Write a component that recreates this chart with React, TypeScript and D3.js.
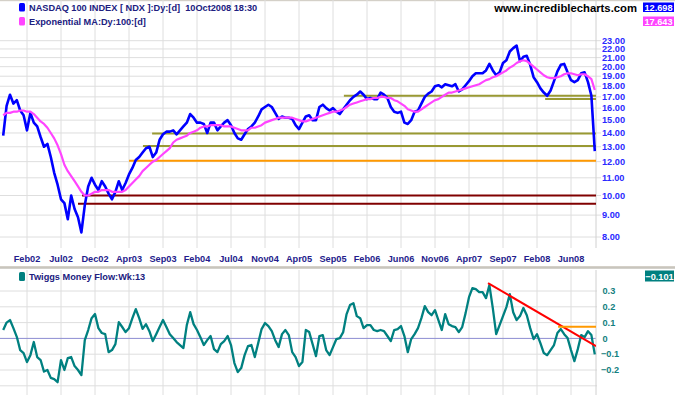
import React from 'react';
import * as d3 from 'd3';

// ---------- DATA ----------
const priceValues = [
  13.8, 16.2, 17.2, 16.4, 16.7, 15.8, 15.4, 14.2, 15.6, 14.8,
  14.5, 13.7, 13.0, 13.2, 12.3, 11.3, 10.6, 9.8, 9.6, 8.8,
  10.0, 9.3, 8.9, 8.2, 9.5, 10.5, 11.0, 10.6, 10.3, 10.8,
  10.5, 10.1, 9.8, 10.2, 10.8, 10.3, 10.7, 11.2, 11.6, 12.1,
  12.3, 12.6, 12.9, 13.0, 12.3, 12.6, 13.5, 13.9, 14.1, 14.1,
  14.2, 13.9, 14.2, 14.5, 14.8, 15.5, 15.2, 14.8, 14.8, 14.7,
  14.0, 14.8, 14.8, 14.2, 14.5, 14.8, 15.0, 14.6, 14.0, 13.6,
  13.5, 13.9, 14.3, 14.5, 14.8, 15.3, 15.9, 16.1, 16.3, 16.1,
  15.6, 15.1, 15.3, 15.2, 15.2, 15.1, 14.6, 14.3, 14.8, 15.3,
  15.4, 15.0, 15.0, 16.1, 16.3, 16.0, 15.8, 16.0, 15.7, 15.5,
  15.9, 16.3, 16.7, 17.0, 17.2, 17.5, 17.2, 16.8, 16.9, 16.8,
  16.8, 17.4, 17.2, 16.9, 16.1, 15.7, 15.6, 15.7, 14.8, 14.7,
  15.0, 15.7, 15.8, 16.4, 17.0, 17.3, 17.5, 18.0, 18.1, 17.9,
  18.2, 18.1, 18.0, 18.2, 17.5, 17.7, 18.1, 18.5, 19.0, 19.3,
  19.3, 19.3, 19.6, 20.3, 19.6, 19.1, 19.4, 20.4, 20.7, 21.7,
  22.1, 22.4, 20.6, 21.1, 21.2, 20.2, 18.9, 18.4, 17.8, 17.4,
  17.1, 17.6, 18.5, 19.5, 20.2, 20.3, 19.4, 18.6, 18.4, 18.6,
  19.3, 19.4, 18.4, 17.1, 12.698,
];

const maValues = [
  15.4, 15.6, 15.6, 15.7, 15.7, 15.8, 15.8, 15.7, 15.7, 15.5,
  15.2, 14.9, 14.7, 14.4, 14.0, 13.6, 13.1, 12.5, 11.8, 11.4,
  11.1, 10.8, 10.5, 10.2, 10.0, 10.0, 10.1, 10.2, 10.2, 10.3,
  10.3, 10.3, 10.2, 10.2, 10.2, 10.2, 10.3, 10.5, 10.7, 10.9,
  11.1, 11.4, 11.6, 11.8, 12.0, 12.1, 12.3, 12.5, 12.7, 12.9,
  13.3, 13.5, 13.6, 13.7, 13.8, 14.0, 14.1, 14.2, 14.4, 14.5,
  14.5, 14.6, 14.6, 14.6, 14.6, 14.5, 14.5, 14.5, 14.4, 14.3,
  14.2, 14.2, 14.2, 14.4, 14.4, 14.5, 14.6, 14.8, 14.9, 15.0,
  15.1, 15.2, 15.2, 15.2, 15.2, 15.2, 15.1, 15.0, 14.9, 14.9,
  15.0, 15.1, 15.2, 15.3, 15.4, 15.5, 15.6, 15.7, 15.7, 15.8,
  15.9, 16.1, 16.3, 16.4, 16.5, 16.6, 16.7, 16.8, 16.8, 16.9,
  16.9, 17.0, 17.0, 16.9, 16.9, 16.7, 16.6, 16.4, 16.2, 15.9,
  15.8, 15.7, 15.7, 15.9, 16.1, 16.3, 16.5, 16.7, 16.8, 17.0,
  17.2, 17.4, 17.4, 17.5, 17.6, 17.7, 17.8, 17.9, 18.0, 18.1,
  18.2, 18.4, 18.6, 18.7, 18.9, 19.0, 19.2, 19.4, 19.6, 19.9,
  20.1, 20.4, 20.6, 20.7, 20.6, 20.3, 20.0, 19.7, 19.4, 19.1,
  18.9, 18.8, 18.8, 18.9, 19.0, 19.2, 19.3, 19.3, 19.2, 19.1,
  19.2, 19.2, 19.0, 18.7, 17.643,
];

const tmfValues = [
  0.053, 0.10, 0.116, 0.065, 0.01, -0.074, -0.093, -0.15, -0.106, -0.023,
  -0.118, -0.137, -0.21, -0.20, -0.25, -0.258, -0.277, -0.137, -0.20, -0.125,
  -0.118, -0.175, -0.20, -0.232, -0.011, 0.053, 0.128, 0.154, 0.065, 0.034,
  0.027, -0.087, -0.074, -0.036, 0.103, 0.072, 0.04, 0.065, 0.128, 0.185,
  0.128, 0.06, 0.09, 0.046, -0.017, 0.027, 0.072, 0.116, 0.072, 0.027,
  0.002, -0.023, -0.042, -0.061, 0.084, 0.166, 0.09, 0.053, 0.008, -0.042,
  -0.011, 0.015, -0.068, -0.087, -0.036, -0.017, 0.015, -0.042, -0.156, -0.213,
  -0.188, -0.106, -0.049, -0.042, -0.118, -0.03, 0.059, 0.097, 0.078, 0.046,
  -0.011, -0.055, 0.027, 0.053, 0.021, -0.087, -0.118, -0.175, -0.15, 0.053,
  0.04, -0.036, -0.112, 0.015, 0.021, -0.074, -0.106, -0.055, -0.004, 0.002,
  0.04, 0.154, 0.211, 0.223, 0.141, 0.128, 0.065, 0.084, 0.084, 0.053,
  0.046, 0.053, 0.046, 0.015, -0.017, 0.053, 0.059, 0.078, 0.015, -0.087,
  -0.004, 0.027, 0.065, 0.128, 0.204, 0.166, 0.147, 0.179, 0.116, 0.053,
  0.154, 0.09, 0.078, 0.072, 0.04, 0.072, 0.16, 0.261, 0.318, 0.312,
  0.293, 0.293, 0.255, 0.337, 0.192, 0.027, 0.084, 0.141, 0.198, 0.28,
  0.166, 0.116, 0.141, 0.192, 0.147, 0.065, -0.004, 0.027, -0.03, -0.093,
  -0.106, -0.074, -0.042, 0.034, 0.059, 0.027, 0.002, -0.074, -0.144, -0.068,
  0.021, 0.008, 0.046, 0.021, -0.101,
];

const xTickLabels = [
  'Feb02', 'Jul02', 'Dec02', 'Apr03', 'Sep03', 'Feb04', 'Jul04', 'Nov04', 'Apr05',
  'Sep05', 'Feb06', 'Jun06', 'Nov06', 'Apr07', 'Sep07', 'Feb08', 'Jun08',
];
const firstTickBar = 7;
const barsPerTick = 10;

const priceTicks = [8, 9, 10, 11, 12, 13, 14, 15, 16, 17, 18, 19, 20, 21, 22, 23];
const tmfTicks = [0.3, 0.2, 0.1, 0, -0.1, -0.2];
const tmfGridExtra = [-0.3];

// horizontal support / resistance levels on the price chart (level, starting bar)
const supportLevels = [
  { level: 17.1, from: 100.2, kind: 'olive' },
  { level: 16.8, from: 159.4, kind: 'olive' },
  { level: 13.97, from: 43.8, kind: 'olive' },
  { level: 13.05, from: 41.1, kind: 'olive' },
  { level: 12.05, from: 37.0, kind: 'orange' },
  { level: 10.0, from: 23.2, kind: 'maroon' },
  { level: 9.57, from: 22.0, kind: 'maroon' },
];

// trend line and level on the money-flow panel
const tmfTrend = { fromBar: 142.6, fromValue: 0.35, toValue: -0.049 };
const tmfLevel = { fromBar: 163.2, level: 0.073 };

const priceTitle = 'NASDAQ 100 INDEX [ NDX ]:Dy:[d]  10Oct2008 18:30';
const maTitle = 'Exponential MA:Dy:100:[d]';
const tmfTitle = 'Twiggs Money Flow:Wk:13';
const siteTitle = 'www.incrediblecharts.com';

// ---------- STYLE ----------
const W = 675;
const H = 395;
const plotLeft = 0;
const plotRight = 596;
const topPanel = { top: 0, bottom: 248 };
const botPanel = { top: 270, bottom: 395 };
const FONT = '"Liberation Sans", Arial, sans-serif';
const levelColors: Record<string, string> = {
  olive: '#999933',
  orange: '#ff9900',
  maroon: '#800000',
};
const gridColor = '#dedede';

export default function App() {
  const x = d3
    .scaleLinear()
    .domain([firstTickBar, firstTickBar + barsPerTick * (xTickLabels.length - 1)])
    .range([27, 571]);
  const edgeBar = x.invert(plotRight);

  const yP = d3.scaleLog().domain([23, 8]).range([40.7, 237]);
  const yT = d3.scaleLinear().domain([0.3, -0.2]).range([291, 370]);

  const priceLine = d3
    .line<number>()
    .x((_, i) => x(i))
    .y((d) => yP(d));
  const tmfLine = d3
    .line<number>()
    .x((_, i) => x(i))
    .y((d) => yT(d));

  const lastPrice = priceValues[priceValues.length - 1];
  const lastMa = maValues[maValues.length - 1];
  const lastTmf = tmfValues[tmfValues.length - 1];

  const tickXs = xTickLabels.map((_, k) => x(firstTickBar + barsPerTick * k));
  const fmtT = (v: number) => (v === 0 ? '0' : d3.format('.1f')(v));

  return (
    <svg width={W} height={H} style={{ display: 'block' }} fontFamily={FONT}>
      <style>{`body{margin:0;}`}</style>
      <defs>
        <clipPath id="clipTop">
          <rect x={plotLeft} y={topPanel.top} width={plotRight - plotLeft} height={topPanel.bottom - topPanel.top} />
        </clipPath>
        <clipPath id="clipBot">
          <rect x={plotLeft} y={botPanel.top} width={plotRight - plotLeft} height={botPanel.bottom - botPanel.top} />
        </clipPath>
      </defs>
      <rect x={0} y={0} width={W} height={H} fill="#ffffff" />
      <rect x={0} y={0} width={W} height={1.2} fill="#d4d0c8" />

      {/* ---------- TOP PANEL ---------- */}
      {tickXs.map((tx, k) => (
        <line key={'vg' + k} x1={tx} x2={tx} y1={topPanel.top} y2={topPanel.bottom} stroke={gridColor} strokeWidth={1} />
      ))}
      {priceTicks.map((t) => (
        <line key={'hg' + t} x1={plotLeft} x2={plotRight + 5} y1={yP(t)} y2={yP(t)} stroke={gridColor} strokeWidth={1} />
      ))}
      <line x1={plotRight} x2={plotRight} y1={topPanel.top} y2={topPanel.bottom} stroke="#d0d0d0" strokeWidth={1} />
      {priceTicks.map((t) => (
        <text key={'pl' + t} x={602} y={yP(t)} dy="0.35em" fontSize={9.2} fontWeight="bold" fill="#2a2aff">
          {d3.format('.2f')(t)}
        </text>
      ))}

      <g clipPath="url(#clipTop)">
        {supportLevels.map((s, k) => (
          <line
            key={'sl' + k}
            x1={x(s.from)}
            x2={x(edgeBar)}
            y1={yP(s.level)}
            y2={yP(s.level)}
            stroke={levelColors[s.kind]}
            strokeWidth={2}
          />
        ))}
        <path d={priceLine(priceValues) || ''} fill="none" stroke="#0000ff" strokeWidth={2.6} strokeLinejoin="round" />
        <path d={priceLine(maValues) || ''} fill="none" stroke="#ff44ff" strokeWidth={2.2} strokeLinejoin="round" />
      </g>

      {xTickLabels.map((lab, k) => (
        <text key={'xl' + k} x={tickXs[k]} y={262} textAnchor="middle" fontSize={9.2} fontWeight="bold" fill="#241c8c">
          {lab}
        </text>
      ))}

      {/* legend top */}
      <rect x={19} y={3} width={6} height={8.5} rx={1.5} fill="#0000ff" />
      <text x={29} y={10.5} fontSize={9.2} fontWeight="bold" fill="#202080" style={{ whiteSpace: 'pre' }}>
        {priceTitle}
      </text>
      <rect x={19} y={17} width={6} height={8.5} rx={1.5} fill="#ff44ff" />
      <text x={29} y={24.5} fontSize={9.2} fontWeight="bold" fill="#202080">
        {maTitle}
      </text>
      <text x={637} y={12} textAnchor="end" fontSize={11.3} fontWeight="bold" fill="#000000">
        {siteTitle}
      </text>
      <rect x={643} y={2.5} width={31} height={9.5} fill="#0000ff" />
      <text x={658.5} y={10.5} textAnchor="middle" fontSize={9.2} fontWeight="bold" fill="#ffffff">
        {d3.format('.3f')(lastPrice)}
      </text>
      <rect x={643} y={16.5} width={31} height={9.5} fill="#ff44ff" />
      <text x={658.5} y={24.5} textAnchor="middle" fontSize={9.2} fontWeight="bold" fill="#ffffff">
        {d3.format('.3f')(lastMa)}
      </text>

      {/* separator */}
      <rect x={0} y={266} width={W} height={1.5} fill="#d4d0c8" />
      <rect x={0} y={267.5} width={W} height={1} fill="#a8a498" />

      {/* ---------- BOTTOM PANEL ---------- */}
      {tickXs.map((tx, k) => (
        <line key={'bvg' + k} x1={tx} x2={tx} y1={botPanel.top} y2={botPanel.bottom} stroke={gridColor} strokeWidth={1} />
      ))}
      {[...tmfTicks, ...tmfGridExtra]
        .filter((t) => t !== 0)
        .map((t) => (
          <line key={'bhg' + t} x1={plotLeft} x2={plotRight + 1} y1={yT(t)} y2={yT(t)} stroke={gridColor} strokeWidth={1} />
        ))}
      <line x1={plotLeft} x2={plotRight} y1={yT(0)} y2={yT(0)} stroke="#8c8cd2" strokeWidth={1} />
      <line x1={plotRight} x2={plotRight} y1={botPanel.top} y2={botPanel.bottom} stroke="#d0d0d0" strokeWidth={1} />
      {tmfTicks.map((t) => (
        <text key={'tl' + t} x={t < 0 ? 601 : 602.5} y={yT(t)} dy="0.35em" fontSize={9.2} fontWeight="bold" fill="#138080">
          {fmtT(t)}
        </text>
      ))}

      <g clipPath="url(#clipBot)">
        <path d={tmfLine(tmfValues) || ''} fill="none" stroke="#008080" strokeWidth={2.3} strokeLinejoin="round" />
        <line
          x1={x(tmfTrend.fromBar)}
          y1={yT(tmfTrend.fromValue)}
          x2={x(edgeBar)}
          y2={yT(tmfTrend.toValue)}
          stroke="#ff0000"
          strokeWidth={2}
        />
        <line
          x1={x(tmfLevel.fromBar)}
          x2={x(edgeBar) + 1}
          y1={yT(tmfLevel.level)}
          y2={yT(tmfLevel.level)}
          stroke="#ff9900"
          strokeWidth={2}
        />
      </g>

      <rect x={19} y={272} width={6} height={9} rx={1.5} fill="#008080" />
      <text x={29} y={280} fontSize={9.2} fontWeight="bold" fill="#202080">
        {tmfTitle}
      </text>
      <rect x={645} y={270.5} width={29} height={11} fill="#008080" />
      <text x={659.5} y={279.5} textAnchor="middle" fontSize={9.2} fontWeight="bold" fill="#ffffff">
        {d3.format('.3f')(lastTmf)}
      </text>
    </svg>
  );
}
